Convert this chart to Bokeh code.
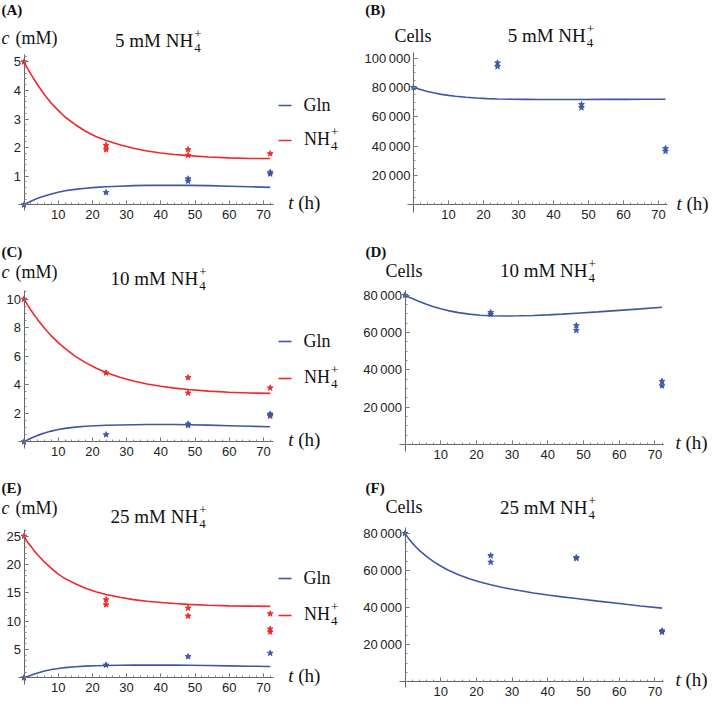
from bokeh.plotting import figure
from bokeh.layouts import gridplot
from bokeh.models import Range1d, FixedTicker
from bokeh.core.properties import value
from bokeh.embed import file_html
from bokeh.resources import INLINE

# ---------------- data ----------------
T = [0, 1, 2, 3, 4, 6, 8, 10, 12, 15, 18, 21, 24, 28, 32, 36, 40, 44, 48, 54, 60, 66, 72]

A_nh4 = [5.00, 4.78, 4.57, 4.38, 4.19, 3.85, 3.55, 3.30, 3.07, 2.80, 2.57, 2.39, 2.25, 2.10, 1.98, 1.88, 1.81, 1.76, 1.72, 1.67, 1.64, 1.62, 1.62]
A_gln = [0, 0.065, 0.125, 0.18, 0.23, 0.31, 0.38, 0.44, 0.49, 0.54, 0.58, 0.61, 0.63, 0.65, 0.67, 0.68, 0.68, 0.68, 0.68, 0.67, 0.65, 0.63, 0.61]
B_cells = [80000, 79300, 78600, 77900, 77300, 76200, 75300, 74600, 74000, 73300, 72800, 72400, 72200, 72000, 71900, 71800, 71800, 71800, 71800, 71900, 71900, 72000, 72000]
C_nh4 = [10, 9.61, 9.24, 8.89, 8.56, 7.96, 7.42, 6.95, 6.54, 5.99, 5.55, 5.17, 4.86, 4.53, 4.26, 4.05, 3.89, 3.76, 3.66, 3.55, 3.47, 3.42, 3.39]
C_gln = [0, 0.13, 0.25, 0.36, 0.45, 0.62, 0.75, 0.86, 0.94, 1.03, 1.09, 1.13, 1.16, 1.18, 1.20, 1.21, 1.21, 1.21, 1.20, 1.17, 1.13, 1.09, 1.05]
D_cells = [80000, 79100, 78300, 77500, 76700, 75200, 73900, 72800, 71800, 70700, 69900, 69300, 69000, 68900, 69000, 69200, 69500, 69900, 70400, 71100, 71900, 72700, 73600]
E_nh4 = [25, 24.0, 23.2, 22.4, 21.7, 20.4, 19.3, 18.3, 17.5, 16.6, 15.8, 15.2, 14.7, 14.2, 13.8, 13.5, 13.3, 13.1, 12.95, 12.8, 12.7, 12.65, 12.6]
E_gln = [0, 0.24, 0.45, 0.66, 0.85, 1.2, 1.45, 1.65, 1.8, 1.95, 2.06, 2.13, 2.18, 2.21, 2.23, 2.24, 2.24, 2.23, 2.21, 2.17, 2.11, 2.05, 1.99]
F_cells = [80000, 77300, 74900, 72800, 70900, 67600, 64800, 62400, 60300, 57700, 55600, 53800, 52300, 50600, 49200, 47900, 46800, 45800, 44900, 43500, 42200, 40900, 39700]

A_nh4_t = [0, 24, 24, 48, 48, 72]
A_nh4_obs = [5.0, 2.08, 1.93, 1.93, 1.73, 1.79]
A_gln_t = [0, 24, 48, 48, 72, 72]
A_gln_obs = [0, 0.43, 0.91, 0.83, 1.14, 1.08]
B_t = [0, 24, 24, 48, 48, 72, 72]
B_obs = [80000, 96800, 94300, 68400, 66200, 38400, 36500]
C_nh4_t = [0, 24, 48, 48, 72, 72]
C_nh4_obs = [10, 4.83, 4.5, 3.42, 3.78, 1.8]
C_gln_t = [0, 24, 48, 48, 72, 72]
C_gln_obs = [0, 0.5, 1.25, 1.15, 1.95, 1.87]
D_t = [0, 24, 24, 48, 48, 72, 72]
D_obs = [80000, 70800, 69800, 63800, 61200, 33900, 31500]
E_nh4_t = [0, 24, 24, 48, 48, 72, 72, 72]
E_nh4_obs = [25, 13.8, 12.9, 12.3, 10.9, 11.3, 8.6, 8.1]
E_gln_t = [0, 24, 48, 72]
E_gln_obs = [0, 2.25, 3.75, 4.35]
F_t = [0, 24, 24, 48, 48, 72, 72]
F_obs = [80000, 68000, 64500, 67000, 66500, 27500, 26800]

X_TICKS = [10, 20, 30, 40, 50, 60, 70]
X_MINOR = list(range(0, 73, 2))
Y_TICKS_A = [1, 2, 3, 4, 5]
Y_TICKS_B = [20000, 40000, 60000, 80000, 100000]
Y_TICKS_C = [2, 4, 6, 8, 10]
Y_TICKS_D = [20000, 40000, 60000, 80000]
Y_TICKS_E = [5, 10, 15, 20, 25]

BLUE = "#3b58a8"
RED = "#f02828"
SERIF = "Liberation Serif"
SANS = "Liberation Sans"


def thousands(ticks):
    return {t: f"{t // 1000}\u2009000" for t in ticks}


def make_panel(s):
    ox, oy, sx, sy = s["ox"], s["oy"], s["sx"], s["sy"]
    px0, py0, W, H = s["px0"], s["py0"], s["W"], s["H"]

    def dx(px):
        return (px - ox) / sx

    def dy(py):
        return (oy - py) / sy

    p = figure(width=W, height=H, output_backend="svg", toolbar_location=None,
               x_range=Range1d(dx(px0), dx(px0 + W)),
               y_range=Range1d(dy(py0 + H), dy(py0)),
               min_border=0, tools="")
    p.outline_line_color = None
    p.grid.visible = False
    p.background_fill_color = "white"
    p.border_fill_color = "white"

    for ax in (p.xaxis[0], p.yaxis[0]):
        ax.fixed_location = 0
        ax.axis_line_color = "#666666"
        ax.major_tick_line_color = "#666666"
        ax.minor_tick_line_color = "#888888"
        ax.major_tick_in = 4
        ax.major_tick_out = 0
        ax.minor_tick_in = 2
        ax.minor_tick_out = 0
        ax.major_label_text_font = SANS
        ax.major_label_text_font_size = "13px"
        ax.major_label_text_color = "#222222"
    p.xaxis[0].bounds = s["xb"]
    p.yaxis[0].bounds = s["yb"]
    p.xaxis[0].ticker = FixedTicker(ticks=X_TICKS, minor_ticks=X_MINOR)
    p.yaxis[0].ticker = FixedTicker(ticks=s["yt"], minor_ticks=s["ym"])
    p.xaxis[0].major_label_standoff = 5
    p.yaxis[0].major_label_standoff = 3
    if s.get("yo"):
        p.yaxis[0].major_label_overrides = s["yo"]

    for xs, ys, c in s["curves"]:
        p.line(xs, ys, line_color=c, line_width=1.6)
    for xs, ys, c in s["points"]:
        p.scatter(xs, ys, marker="star", size=6, color=c)

    def txt(px, py, t, align="left", style="normal", size="18px"):
        p.text(x=[dx(px)], y=[dy(py)], text=[t], text_align=align,
               text_baseline="middle", text_font=value(SERIF),
               text_font_style=style, text_font_size=size, text_color="#111111")

    # panel letter
    txt(s["lab"][0], s["lab"][1], s["lab"][2], style="bold", size="15px")
    # y label
    yl = s["ylab"]
    if yl[2] == "c":
        txt(yl[0], yl[1], "c", style="italic")
        txt(yl[0] + 14, yl[1], "(mM)")
    else:
        txt(yl[0], yl[1], "Cells")
    # title
    tx, ty, tt = s["title"]
    txt(tx, ty, tt, align="right", size="19px")
    txt(tx + 1, ty + 7, "4", size="13px")
    txt(tx + 1, ty - 7, "+", size="13px")
    # x label
    xx, xy = s["xlab"]
    txt(xx, xy, "t", style="italic", size="19px")
    txt(xx + 10, xy, "(h)", size="19px")
    # legend
    if s.get("legend"):
        gy, ry = s["legend"]
        p.line([dx(286), dx(299)], [dy(gy), dy(gy)], line_color=BLUE, line_width=1.6)
        p.line([dx(286), dx(299)], [dy(ry), dy(ry)], line_color=RED, line_width=1.6)
        txt(311, gy - 1, "Gln")
        txt(337.5, ry - 2, "NH", align="right")
        txt(338.5, ry + 5, "4", size="13px")
        txt(338.5, ry - 9, "+", size="13px")
    return p


LX0, LW = 8, 350
RX0, RW = 358, 362
ROWS = [(8, 234), (242, 233), (475, 234)]

specs = {
    "A": dict(px0=LX0, W=LW, py0=ROWS[0][0], H=ROWS[0][1], ox=31.5, oy=212.3, sx=3.42, sy=28.6,
              xb=(-1.7, 73), yb=(-0.2, 5.26), yt=Y_TICKS_A, ym=[i * 0.2 for i in range(0, 27)],
              curves=[(T, A_nh4, RED), (T, A_gln, BLUE)],
              points=[(A_nh4_t, A_nh4_obs, RED), (A_gln_t, A_gln_obs, BLUE)],
              lab=(9, 17, "(A)"), ylab=(9, 45, "c"), title=(200.7, 48, "5 mM NH"),
              xlab=(295.7, 210), legend=(113, 148)),
    "B": dict(px0=RX0, W=RW, py0=ROWS[0][0], H=ROWS[0][1], ox=421, oy=212.2, sx=3.5, sy=29.3 / 20000,
              xb=(-1.7, 72.5), yb=(-5300, 104000), yt=Y_TICKS_B, ym=list(range(0, 104000, 5000)),
              yo=thousands(Y_TICKS_B),
              curves=[(T, B_cells, BLUE)], points=[(B_t, B_obs, BLUE)],
              lab=(372.7, 17, "(B)"), ylab=(402, 43, "Cells"), title=(593.3, 43, "5 mM NH"),
              xlab=(684, 211)),
    "C": dict(px0=LX0, W=LW, py0=ROWS[1][0], H=ROWS[1][1], ox=31.5, oy=449.3, sx=3.42, sy=14.27,
              xb=(-1.7, 73), yb=(-0.47, 10.6), yt=Y_TICKS_C, ym=[i * 0.5 for i in range(0, 22)],
              curves=[(T, C_nh4, RED), (T, C_gln, BLUE)],
              points=[(C_nh4_t, C_nh4_obs, RED), (C_gln_t, C_gln_obs, BLUE)],
              lab=(9, 259, "(C)"), ylab=(9, 279, "c"), title=(205.7, 286, "10 mM NH"),
              xlab=(295.7, 447), legend=(349, 386)),
    "D": dict(px0=RX0, W=RW, py0=ROWS[1][0], H=ROWS[1][1], ox=412.5, oy=452, sx=3.57, sy=37.3 / 20000,
              xb=(-1.5, 72.5), yb=(-3750, 82500), yt=Y_TICKS_D, ym=list(range(0, 82500, 5000)),
              yo=thousands(Y_TICKS_D),
              curves=[(T, D_cells, BLUE)], points=[(D_t, D_obs, BLUE)],
              lab=(373, 259, "(D)"), ylab=(393, 278, "Cells"), title=(595, 278, "10 mM NH"),
              xlab=(683, 450)),
    "E": dict(px0=LX0, W=LW, py0=ROWS[2][0], H=ROWS[2][1], ox=31.5, oy=685.3, sx=3.42, sy=5.667,
              xb=(-1.7, 73), yb=(-1.2, 26.2), yt=Y_TICKS_E, ym=list(range(0, 27)),
              curves=[(T, E_nh4, RED), (T, E_gln, BLUE)],
              points=[(E_nh4_t, E_nh4_obs, RED), (E_gln_t, E_gln_obs, BLUE)],
              lab=(9, 495, "(E)"), ylab=(9, 515, "c"), title=(205.7, 524, "25 mM NH"),
              xlab=(295.7, 683), legend=(586, 623)),
    "F": dict(px0=RX0, W=RW, py0=ROWS[2][0], H=ROWS[2][1], ox=412.5, oy=689.3, sx=3.57, sy=37.1 / 20000,
              xb=(-1.5, 72.5), yb=(-3000, 83000), yt=Y_TICKS_D, ym=list(range(0, 83000, 5000)),
              yo=thousands(Y_TICKS_D),
              curves=[(T, F_cells, BLUE)], points=[(F_t, F_obs, BLUE)],
              lab=(373, 495, "(F)"), ylab=(393, 514, "Cells"), title=(595, 515, "25 mM NH"),
              xlab=(683, 687)),
}

panels = {k: make_panel(v) for k, v in specs.items()}
grid = gridplot([[panels["A"], panels["B"]],
                 [panels["C"], panels["D"]],
                 [panels["E"], panels["F"]]], toolbar_location=None)

open("out.html", "w").write(file_html(grid, INLINE))
